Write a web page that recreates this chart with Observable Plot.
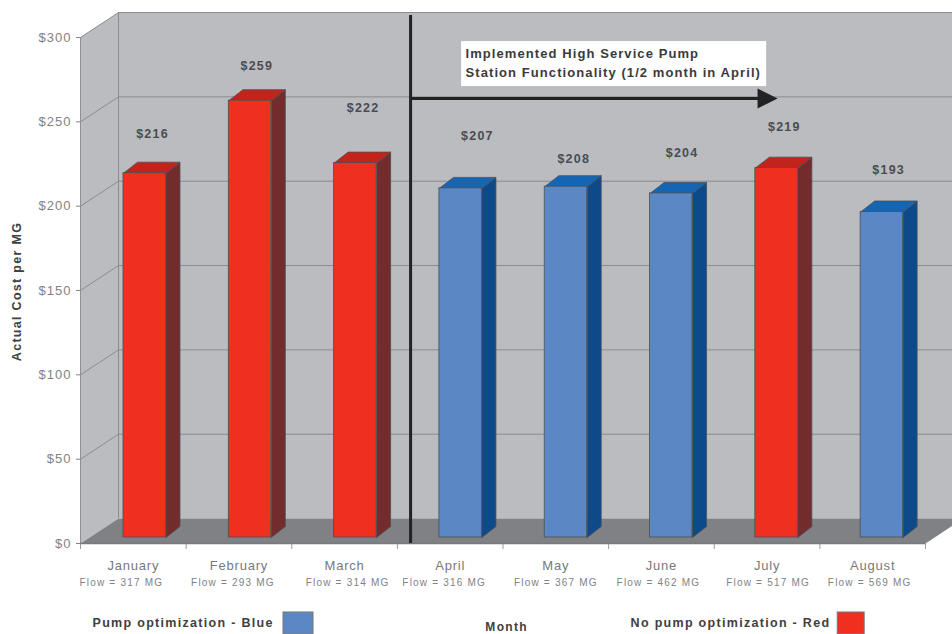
<!DOCTYPE html>
<html>
<head>
<meta charset="utf-8">
<script src="https://cdn.jsdelivr.net/npm/d3@7"></script>
<script src="https://cdn.jsdelivr.net/npm/@observablehq/plot@0.6"></script>
<style>
  html, body { margin: 0; background: #fff; overflow: hidden; }
  svg { display: block; }
  .value text { letter-spacing: 1.2px; }
  .month text { letter-spacing: 0.8px; }
  .flow text { letter-spacing: 1.2px; }
  .wide text { letter-spacing: 1.3px; }
  .note text { letter-spacing: 1.08px; }
  .tick-y text { letter-spacing: 1px; }
</style>
</head>
<body>
<div id="chart"></div>
<script>
// Monthly pumping cost per million gallons
const months = ["January", "February", "March", "April", "May", "June", "July", "August"];
const costs = [216, 259, 222, 207, 208, 204, 219, 193];
const flows = [317, 293, 314, 316, 367, 462, 517, 569];
const optimized = [false, false, false, true, true, true, false, true];
const yTicks = [0, 50, 100, 150, 200, 250, 300];

// Oblique projection of the chart box, in scale units
const DEPTH_X = 0.36, DEPTH_Y = 14.8;
const BAR_DX = 0.133, BAR_DY = 6.5;
const BAR_START = 0.407, BAR_W = 0.402, BAR_STEP = 0.997;
const RIGHT = 8.36;

// Per-month label nudges, in pixels
const labelLift = [39, 35, 55, 52, 28, 40, 41, 42];
const labelShift = [29, 28, 29, 38, 29, 32, 29, 28];
const flowShift = [-12, -6, 3, -6, 0, -3, 1, -3];

const palette = {
  wall: "#babcc0", floor: "#808184", grid: "#8a8c91",
  red: ["#f0301f", "#c4231a", "#722c2c"],
  blue: ["#5b87c5", "#1466b4", "#0c4a8a"]
};

const poly = (pts, fill, extra = {}) =>
  Plot.line([...pts, pts[0]].map(([x, y]) => ({x, y})), {x: "x", y: "y", fill, stroke: "none", ...extra});

// Walls and floor of the box
const box = [
  poly([[0, 0], [DEPTH_X, DEPTH_Y], [DEPTH_X, 300 + DEPTH_Y], [0, 300]], palette.wall),
  poly([[DEPTH_X, DEPTH_Y], [RIGHT, DEPTH_Y], [RIGHT, 300 + DEPTH_Y], [DEPTH_X, 300 + DEPTH_Y]], palette.wall),
  poly([[0, 0], [8, 0], [RIGHT, DEPTH_Y], [DEPTH_X, DEPTH_Y]], palette.floor),
  Plot.ruleY(yTicks.filter(d => d > 0), {y: d => d + DEPTH_Y, x1: DEPTH_X, x2: RIGHT, stroke: palette.grid, strokeWidth: 1}),
  ...yTicks.filter(d => d > 0).map(v =>
    Plot.line([{x: 0, y: v}, {x: DEPTH_X, y: v + DEPTH_Y}], {x: "x", y: "y", stroke: palette.grid, strokeWidth: 1})),
  Plot.ruleX([DEPTH_X], {y1: DEPTH_Y, y2: 300 + DEPTH_Y, stroke: palette.grid}),
  Plot.ruleX([0], {y1: 0, y2: 300, stroke: "#8e9094"})
];

// Each column: side face, top face, then front face, lifted slightly off the axis plane
const LIFT = {dy: -6};
const edge = {stroke: "#4d4f55", strokeWidth: 0.8, ...LIFT};
const columns = costs.flatMap((v, i) => {
  const [front, top, side] = optimized[i] ? palette.blue : palette.red;
  const a = i * BAR_STEP + BAR_START, b = a + BAR_W;
  return [
    poly([[b, 0], [b + BAR_DX, BAR_DY], [b + BAR_DX, v + BAR_DY], [b, v]], side, edge),
    poly([[a, v], [b, v], [b + BAR_DX, v + BAR_DY], [a + BAR_DX, v + BAR_DY]], top, edge),
    Plot.rect([v], {x1: a, x2: b, y1: 0, y2: d => d, fill: front, ...edge})
  ];
});

const valueLabels = costs.map((v, i) =>
  Plot.text([v], {
    x: i * BAR_STEP + BAR_START, y: v, text: d => `$${d}`, dx: labelShift[i], dy: -6 - labelLift[i],
    fontSize: 12.5, fontWeight: 700, fill: "#4a4c50", className: "value"
  }));

const monthRows = months.map((m, i) => ({m, f: flows[i], x: i + 0.5}));
const monthLabels = [
  Plot.text(monthRows, {x: "x", y: 0, text: "m", dy: 22, fontSize: 13, fill: "#77797c", className: "month"}),
  ...monthRows.map((r, i) =>
    Plot.text([r], {x: "x", y: 0, text: d => `Flow = ${d.f} MG`, dy: 39, dx: flowShift[i], fontSize: 10, fill: "#808285", className: "flow"}))
];

// Start of the high service pump functionality: divider, arrow and note
const annotation = [
  Plot.ruleX([3.125], {y1: 0, y2: 313, stroke: "#222", strokeWidth: 3}),
  Plot.ruleY([263.8], {x1: 3.125, x2: 6.42, stroke: "#222", strokeWidth: 3}),
  poly([[6.41, 269.7], [6.6, 263.8], [6.41, 257.9]], "#222"),
  Plot.rect([0], {x1: 3.608, x2: 6.496, y1: 270.9, y2: 297.6, fill: "#fff"}),
  Plot.text(["Implemented High Service Pump", "Station Functionality (1/2 month in April)"], {
    x: 3.645, y: (d, i) => [290.5, 279.2][i], text: d => d, textAnchor: "start",
    fontSize: 13, fontWeight: 700, fill: "#3a3a3d", className: "note"
  })
];

const legend = [
  Plot.text(["Pump optimization - Blue"], {x: 0.114, y: -47.4, text: d => d, textAnchor: "start", fontSize: 12.5, fontWeight: 700, fill: "#3f4042", className: "wide"}),
  Plot.rect([0], {x1: 1.922, x2: 2.206, y1: -40.9, y2: -53.9, fill: palette.blue[0], stroke: "#777"}),
  Plot.text(["No pump optimization - Red"], {x: 5.208, y: -47.4, text: d => d, textAnchor: "start", fontSize: 12.5, fontWeight: 700, fill: "#3f4042", className: "wide"}),
  Plot.rect([0], {x1: 7.169, x2: 7.424, y1: -40.9, y2: -53.9, fill: palette.red[0], stroke: "#777"}),
  Plot.text(["Month"], {x: 4.034, y: -49.6, text: d => d, fontSize: 12, fontWeight: 700, fill: "#3f4042", className: "wide"}),
  Plot.text(["Actual Cost per MG"], {x: -0.597, y: 149.4, text: d => d, rotate: -90, fontSize: 12.5, fontWeight: 700, fill: "#3f4042", className: "wide"})
];

const chart = Plot.plot({
  width: 952,
  height: 634,
  marginLeft: 80, marginRight: 27, marginTop: 37, marginBottom: 91,
  style: {fontFamily: "Liberation Sans, Arial, sans-serif", background: "#fff", overflow: "hidden"},
  x: {type: "linear", domain: [0, 8]},
  y: {type: "linear", domain: [0, 300]},
  marks: [
    ...box,
    Plot.axisY({ticks: yTicks, tickSize: 4, tickPadding: 5, tickFormat: d => `$${d}`, fontSize: 13, color: "#808285", label: null, className: "tick-y"}),
    Plot.axisX({ticks: d3.range(9), tickSize: 6, tickFormat: () => "", color: "#9a9c9f", label: null}),
    Plot.ruleY([0], {stroke: "#77797c", strokeWidth: 1.5}),
    ...columns,
    ...valueLabels,
    ...annotation,
    ...monthLabels,
    ...legend
  ]
});
document.getElementById("chart").append(chart);
</script>
</body>
</html>
